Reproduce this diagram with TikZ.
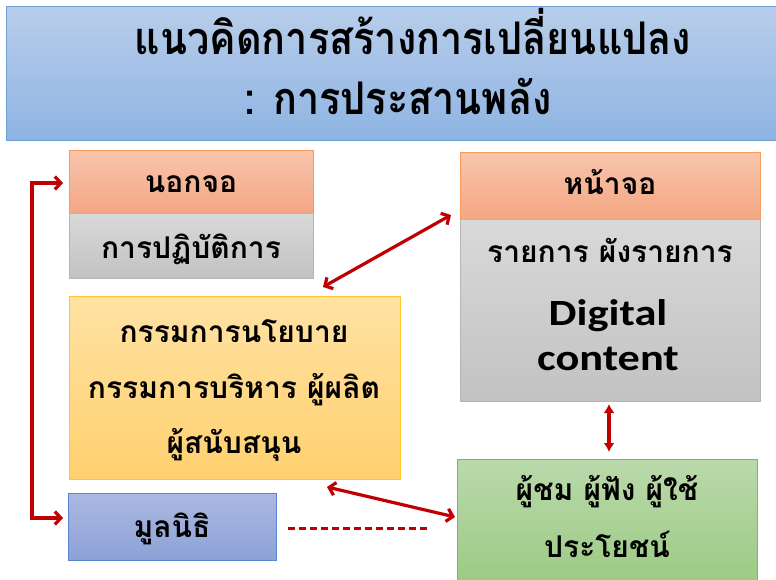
\documentclass[tikz,border=0pt]{standalone}
\usepackage{fontspec}
\usepackage{graphicx}
\setmainfont{Carlito}
\newfontfamily\thai[Script=Thai]{Loma}
\usetikzlibrary{arrows.meta}
\definecolor{arr}{HTML}{C00000}
\definecolor{banT}{HTML}{B8CDEA}
\definecolor{banB}{HTML}{8EB4E3}
\definecolor{banD}{HTML}{6F9FD8}
\definecolor{hdT}{HTML}{F8C5AC}
\definecolor{hdB}{HTML}{F4A683}
\definecolor{hdD}{HTML}{F79A5A}
\definecolor{grT}{HTML}{D9D9D9}
\definecolor{grB}{HTML}{C2C2C2}
\definecolor{grD}{HTML}{B5B5B5}
\definecolor{ylT}{HTML}{FFE2A3}
\definecolor{ylB}{HTML}{FFD06F}
\definecolor{ylD}{HTML}{FFC52E}
\definecolor{blT}{HTML}{ABB9E2}
\definecolor{blB}{HTML}{8DA1D7}
\definecolor{blD}{HTML}{5B84D0}
\definecolor{gnT}{HTML}{BAD9AB}
\definecolor{gnB}{HTML}{9CCA84}
\definecolor{gnD}{HTML}{7DB760}
\tikzset{
  box/.style={draw, line width=1pt, anchor=north west, inner sep=0pt},
  head/.style={box, draw=hdD, top color=hdT, bottom color=hdB},
  grey/.style={box, draw=grD, top color=grT, bottom color=grB},
  yell/.style={box, draw=ylD, top color=ylT, bottom color=ylB},
  blu/.style={box, draw=blD, top color=blT, bottom color=blB},
  grn/.style={box, draw=gnD, top color=gnT, bottom color=gnB},
  lbl/.style={font=\thai\bfseries\fontsize{30}{34}\selectfont, inner sep=0pt, anchor=base},
  eng/.style={font=\bfseries\fontsize{37}{40}\selectfont, inner sep=0pt, anchor=base},
  ttl/.style={font=\thai\bfseries\fontsize{45}{48}\selectfont, inner sep=0pt, anchor=base},
  link/.style={draw=arr, line width=3.2pt, {Straight Barb[length=6pt,width=13pt]}-{Straight Barb[length=6pt,width=13pt]}},
  vlink/.style={draw=arr, line width=3.2pt, {Latex[length=9pt,width=11pt]}-{Latex[length=9pt,width=11pt]}},
}
\begin{document}
\begin{tikzpicture}[x=1pt,y=-1pt]
\useasboundingbox (0,0) rectangle (776,580);
\fill[white] (0,0) rectangle (776,580);
% banner
\node[box, draw=banD, top color=banT, bottom color=banB, minimum width=772pt, minimum height=134pt] (banner) at (6,6) {};
\node[ttl] (t1) at (413,55) {\scalebox{0.88}[1]{แนวคิดการสร้างการเปลี่ยนแปลง}};
\node[ttl] (t2) at (398,115) {\scalebox{0.88}[1]{: การประสานพลัง}};
% left column
\node[head, minimum width=244pt, minimum height=63pt] (off) at (69,150) {};
\node[grey, minimum width=244pt, minimum height=65pt] (offb) at (69,213) {};
\node[lbl] at (191,193) {นอกจอ};
\node[lbl] at (191,258) {การปฏิบัติการ};
\node[yell, minimum width=331pt, minimum height=183pt] (comm) at (69,296) {};
\node[lbl] at (234,342) {กรรมการนโยบาย};
\node[lbl] at (234,398) {กรรมการบริหาร ผู้ผลิต};
\node[lbl] at (234,453) {ผู้สนับสนุน};
\node[blu, minimum width=208pt, minimum height=67pt] (fund) at (68,493) {};
\node[lbl] at (172,537) {มูลนิธิ};
% right column
\node[head, minimum width=300pt, minimum height=67pt] (on) at (460,152) {};
\node[grey, minimum width=300pt, minimum height=182pt] (onb) at (460,219) {};
\node[lbl] at (610,195) {หน้าจอ};
\node[lbl] at (610,262) {รายการ ผังรายการ};
\node[eng] at (608,325) {\scalebox{1.2}[1]{Digital}};
\node[eng] at (608,370) {\scalebox{1.2}[1]{content}};
\node[grn, minimum width=300pt, minimum height=125pt] (aud) at (457,459) {};
\node[lbl] at (607,500) {ผู้ชม ผู้ฟัง ผู้ใช้};
\node[lbl] at (607,557) {ประโยชน์};
% connectors
\coordinate (a1) at (32,183);
\coordinate (a2) at (32,518);
\draw[link] ([xshift=-6pt]off.west |- a1) -- (a1) -- (a2) -- ([xshift=-5pt]fund.west |- a2);
\draw[link] (323,287) -- (451,215);
\draw[vlink] (609,404) -- (609,452);
\draw[link] (327,487) -- (455,517);
\draw[draw=arr, line width=3pt, dash pattern=on 7pt off 4pt] (288,528) -- (428,528);
\end{tikzpicture}
\end{document}
